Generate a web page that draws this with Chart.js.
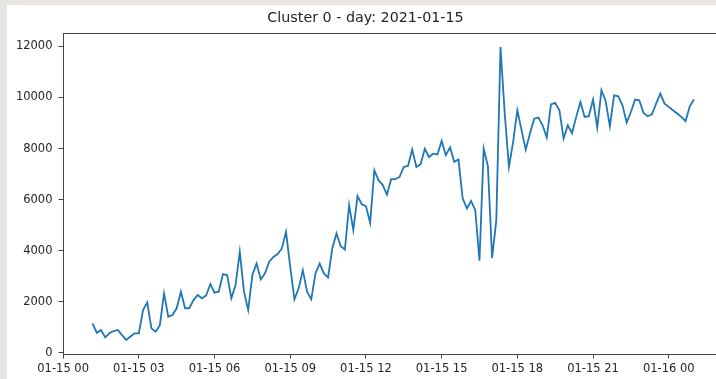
<!DOCTYPE html>
<html>
<head>
<meta charset="utf-8">
<script src="https://cdn.jsdelivr.net/npm/chart.js@4/dist/chart.umd.min.js"></script>
<style>
  html, body { margin: 0; padding: 0; width: 716px; height: 379px; overflow: hidden; background: #e8e5e0; }
  #sheet { position: absolute; left: 7px; top: 5px; width: 709px; height: 374px; background: #fff; overflow: hidden; }
  #wrap { position: absolute; left: 0; top: 0; width: 735px; height: 374px; }
</style>
</head>
<body>
<div id="sheet"><div id="wrap"><canvas id="chart"></canvas></div></div>
<script>
// Series: one reading every 10 minutes, starting 01-15 01:10
const startHour = 1 + 10 / 60;
const stepHours = 10 / 60;
const clusterValues = [
  1160, 790, 900, 610, 770, 860, 900, 700, 510, 645, 770, 770,
  1680, 1980, 965, 830, 1090, 2330, 1420, 1485, 1750, 2400, 1750, 1750,
  2070, 2270, 2140, 2250, 2700, 2360, 2400, 3090, 3050, 2140, 2660, 3960,
  2400, 1680, 3050, 3500, 2880, 3115, 3570, 3760, 3870, 4090, 4740, 3370,
  2100, 2530, 3240, 2400, 2100, 3115, 3500, 3115, 2960, 4090, 4680, 4180,
  4050, 5785, 4810, 6140, 5820, 5750, 5090, 7150, 6760, 6570, 6200, 6800,
  6800, 6890, 7280, 7320, 7960, 7280, 7390, 7990, 7670, 7800, 7770, 8300,
  7740, 8050, 7480, 7570, 6050, 5660, 5950, 5590, 3610, 8000, 7310, 3720,
  5200, 11970, 9370, 7280, 8260, 9500, 8720, 7960, 8590, 9170, 9210, 8910,
  8430, 9730, 9785, 9500, 8390, 8910, 8600, 9240, 9820, 9240, 9265, 9920,
  8820, 10280, 9860, 8870, 10085, 10045, 9690, 9020, 9430, 9920, 9890, 9390,
  9265, 9340, 9760, 10150, 9760, 9630, 9500, 9370, 9240, 9070, 9655, 9920
];
const tickHours = [0, 3, 6, 9, 12, 15, 18, 21, 24];
const xTickLabels = ["01-15 00", "01-15 03", "01-15 06", "01-15 09", "01-15 12",
                     "01-15 15", "01-15 18", "01-15 21", "01-16 00"];
const yTickValues = [0, 2000, 4000, 6000, 8000, 10000, 12000];
const chartTitle = "Cluster 0 - day: 2021-01-15";

const points = clusterValues.map((v, i) => ({ x: startHour + i * stepHours, y: v }));

const frameColor = "#444";
const textColor = "#262626";
const fontFamily = "'DejaVu Sans', sans-serif";

// matplotlib style box around the axes
const framePlugin = {
  id: "frame",
  afterDraw(chart) {
    const { ctx, chartArea: a } = chart;
    ctx.save();
    ctx.strokeStyle = frameColor;
    ctx.lineWidth = 1;
    ctx.strokeRect(Math.round(a.left) + 0.5, Math.round(a.top) + 0.5,
                   Math.round(a.right - a.left), Math.round(a.bottom - a.top));
    ctx.restore();
  }
};

new Chart(document.getElementById("chart"), {
  type: "line",
  data: {
    datasets: [{
      data: points,
      borderColor: "#1f77b4",
      borderWidth: 1.8,
      pointRadius: 0,
      tension: 0,
      fill: false
    }]
  },
  options: {
    responsive: true,
    maintainAspectRatio: false,
    animation: false,
    layout: { padding: { left: 0, right: 18, top: 0, bottom: 0 } },
    plugins: {
      legend: { display: false },
      tooltip: { enabled: false },
      title: {
        display: true,
        text: chartTitle,
        color: textColor,
        font: { family: fontFamily, size: 14.3, weight: "normal" },
        padding: { top: 5, bottom: 6.2 }
      }
    },
    scales: {
      x: {
        type: "linear",
        min: -0.025,
        max: 26.19,
        afterBuildTicks: scale => { scale.ticks = tickHours.map(v => ({ value: v })); },
        afterFit: scale => { scale.height = 24.5; },
        border: { display: false },
        grid: { drawOnChartArea: false, drawTicks: true, tickLength: 4, tickColor: frameColor },
        ticks: {
          autoSkip: false,
          maxRotation: 0,
          padding: 4,
          color: textColor,
          font: { family: fontFamily, size: 11.5 },
          callback: (v) => xTickLabels[tickHours.indexOf(v)]
        }
      },
      y: {
        min: -59,
        max: 12508,
        afterBuildTicks: scale => { scale.ticks = yTickValues.map(v => ({ value: v })); },
        afterFit: scale => { scale.width = 55.5; },
        border: { display: false },
        grid: { drawOnChartArea: false, drawTicks: true, tickLength: 4, tickColor: frameColor },
        ticks: {
          padding: 6,
          color: textColor,
          font: { family: fontFamily, size: 11.5 },
          callback: v => String(v)
        }
      }
    }
  },
  plugins: [framePlugin]
});
</script>
</body>
</html>
